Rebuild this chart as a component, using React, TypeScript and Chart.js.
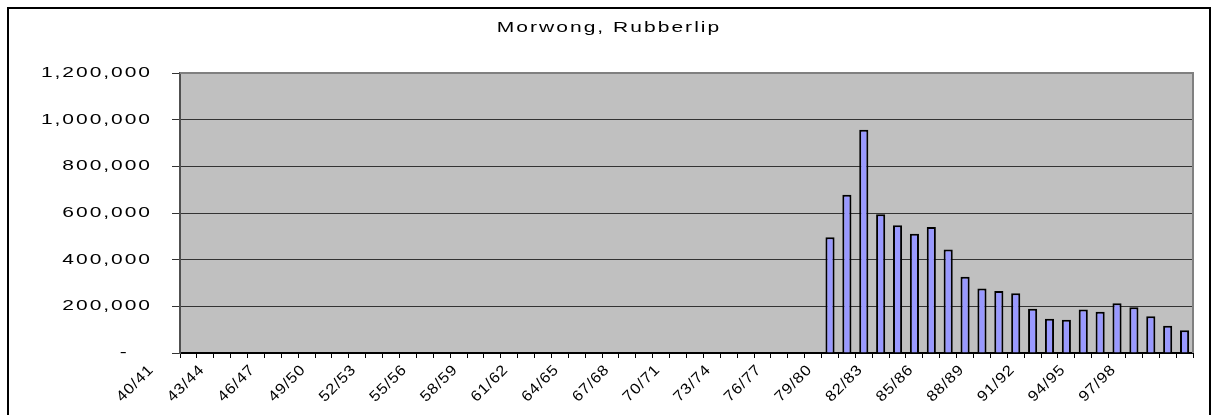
import { useEffect, useRef } from 'react';
import { Chart, registerables, CategoryScale, LinearScale } from 'chart.js';

Chart.register(...registerables);

const TITLE = 'Morwong, Rubberlip';

const SEASONS = [
  '40/41', '41/42', '42/43', '43/44', '44/45', '45/46', '46/47', '47/48', '48/49', '49/50',
  '50/51', '51/52', '52/53', '53/54', '54/55', '55/56', '56/57', '57/58', '58/59', '59/60',
  '60/61', '61/62', '62/63', '63/64', '64/65', '65/66', '66/67', '67/68', '68/69', '69/70',
  '70/71', '71/72', '72/73', '73/74', '74/75', '75/76', '76/77', '77/78', '78/79', '79/80',
  '80/81', '81/82', '82/83', '83/84', '84/85', '85/86', '86/87', '87/88', '88/89', '89/90',
  '90/91', '91/92', '92/93', '93/94', '94/95', '95/96', '96/97', '97/98', '98/99', '99/00',
];

const CATCH = [
  null, null, null, null, null, null, null, null, null, null,
  null, null, null, null, null, null, null, null, null, null,
  null, null, null, null, null, null, null, null, null, null,
  null, null, null, null, null, null, null, null, 496000, 678000,
  957000, 595000, 548000, 511000, 540000, 444000, 327000, 276000, 266000, 256000,
  190000, 147000, 143000, 186000, 177000, 213000, 196000, 158000, 117000, 97000,
];

const Y_MIN = 0;
const Y_MAX = 1200000;
const Y_STEP = 200000;
const LABEL_EVERY = 3;

const FONT = '"Liberation Sans", Arial, Helvetica, sans-serif';

// horizontal text stretch + letter spacing (the reference text is wide)
const TITLE_STRETCH = 1.4;
const TITLE_SPACING = '1.45px';
const Y_STRETCH = 1.4;
const Y_SPACING = '1.4px';
const X_STRETCH = 1.1;
const X_SPACING = '0.8px';

function installStretch(ctx: any, sx: number, spacing: string) {
  const prev = Object.prototype.hasOwnProperty.call(ctx, 'fillText') ? ctx.fillText : undefined;
  const orig = CanvasRenderingContext2D.prototype.fillText;
  ctx.letterSpacing = spacing;
  ctx.fillText = function (text: string, x: number, y: number, maxWidth?: number) {
    this.save();
    this.translate(x, y);
    this.scale(sx, 1);
    if (maxWidth === undefined || maxWidth === null) orig.call(this, text, 0, 0);
    else orig.call(this, text, 0, 0, maxWidth / sx);
    this.restore();
  };
  return () => {
    if (prev) ctx.fillText = prev;
    else delete ctx.fillText;
  };
}

class SpacedCategoryScale extends CategoryScale {
  static id = 'spacedCategory';
  drawLabels(area: any) {
    const ctx: any = this.ctx;
    ctx.save();
    const undo = installStretch(ctx, X_STRETCH, X_SPACING);
    try {
      super.drawLabels(area);
    } finally {
      undo();
      ctx.restore();
    }
  }
}

class SpacedLinearScale extends LinearScale {
  static id = 'spacedLinear';
  drawLabels(area: any) {
    const ctx: any = this.ctx;
    ctx.save();
    const undo = installStretch(ctx, Y_STRETCH, Y_SPACING);
    try {
      super.drawLabels(area);
    } finally {
      undo();
      ctx.restore();
    }
  }
}

Chart.register(SpacedCategoryScale as any, SpacedLinearScale as any);

let undoTitle: null | (() => void) = null;

const plotAreaPlugin = {
  id: 'plotArea',
  beforeDraw(chart: any) {
    const { ctx, chartArea: a } = chart;
    ctx.save();
    ctx.fillStyle = '#C0C0C0';
    ctx.fillRect(a.left, a.top, a.right - a.left, a.bottom - a.top);
    ctx.restore();
    undoTitle = installStretch(ctx, TITLE_STRETCH, TITLE_SPACING);
  },
  afterDatasetsDraw(chart: any) {
    const { ctx, chartArea: a } = chart;
    ctx.save();
    ctx.strokeStyle = '#808080';
    ctx.lineWidth = 2;
    ctx.beginPath();
    ctx.moveTo(a.left, a.top);
    ctx.lineTo(a.right, a.top);
    ctx.lineTo(a.right, a.bottom);
    ctx.stroke();
    ctx.restore();
  },
  afterDraw(chart: any) {
    if (undoTitle) undoTitle();
    undoTitle = null;
    chart.ctx.letterSpacing = '0px';
  },
};

export default function App() {
  const ref = useRef<HTMLCanvasElement>(null);

  useEffect(() => {
    if (!ref.current) return;
    const chart = new Chart(ref.current, {
      type: 'bar',
      data: {
        labels: SEASONS,
        datasets: [
          {
            label: TITLE,
            data: CATCH as any,
            backgroundColor: '#9999FF',
            borderColor: '#000000',
            borderWidth: 2,
            barPercentage: 0.54,
            categoryPercentage: 1,
          },
        ],
      },
      options: {
        responsive: false,
        animation: false,
        devicePixelRatio: 1,
        layout: { padding: { left: 0, right: 0, top: 0, bottom: 0 } },
        plugins: {
          legend: { display: false },
          tooltip: { enabled: false },
          title: {
            display: true,
            text: TITLE,
            color: '#000000',
            font: { family: FONT, size: 15, weight: 'normal' },
            padding: { top: 10, bottom: 36 },
          },
        },
        scales: {
          x: {
            type: 'spacedCategory' as any,
            offset: true,
            grid: { offset: true, drawOnChartArea: false, drawTicks: true, tickLength: 5, color: '#000000' },
            border: { display: true, color: '#000000', width: 2 },
            ticks: {
              autoSkip: false,
              minRotation: 45,
              maxRotation: 45,
              labelOffset: -37,
              padding: 3,
              color: '#000000',
              font: { family: FONT, size: 15 },
              callback: (_v: any, i: number) => (i % LABEL_EVERY === 0 ? SEASONS[i] : ''),
            },
            afterFit: (s: any) => {
              s.height = 62;
            },
          },
          y: {
            type: 'spacedLinear' as any,
            min: Y_MIN,
            max: Y_MAX,
            grid: { color: '#333333', lineWidth: 1, tickLength: 8, drawTicks: true },
            border: { display: true, color: '#505050', width: 2 },
            ticks: {
              stepSize: Y_STEP,
              padding: 20,
              color: '#000000',
              font: { family: FONT, size: 15 },
              callback: (v: any) => (Number(v) === 0 ? '-   ' : Number(v).toLocaleString('en-US')),
            },
            afterFit: (s: any) => {
              s.width = 171;
            },
          },
          pad: {
            type: 'linear',
            position: 'right',
            display: true,
            grid: { display: false, drawTicks: false },
            ticks: { display: false },
            border: { display: false },
            afterFit: (s: any) => {
              s.width = 16;
            },
          },
        },
      } as any,
      plugins: [plotAreaPlugin],
    });
    return () => chart.destroy();
  }, []);

  return (
    <div
      style={{
        position: 'fixed',
        left: 7,
        top: 7,
        width: 1204,
        height: 424,
        border: '2px solid #000',
        boxSizing: 'border-box',
        background: '#fff',
      }}
    >
      <canvas
        ref={ref}
        width={1200}
        height={406}
        style={{ position: 'absolute', left: 0, top: 0, width: 1200, height: 406 }}
      />
    </div>
  );
}
